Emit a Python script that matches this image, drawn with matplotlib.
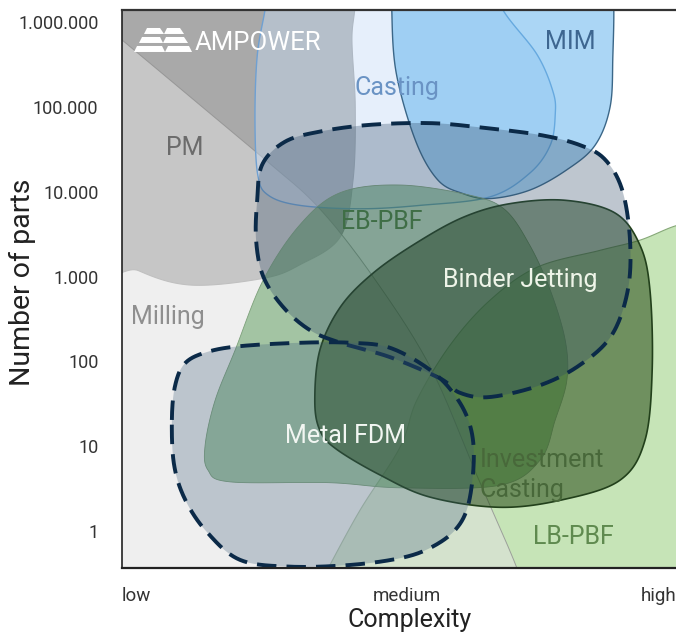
import numpy as np
import matplotlib
matplotlib.use("Agg")
import matplotlib.pyplot as plt
from matplotlib.patches import Polygon
from matplotlib.ticker import FixedLocator, FuncFormatter, NullLocator

plt.rcParams['font.family'] = ['Roboto', 'DejaVu Sans']

# Region outlines: complexity (0 = low, 100 = high) and log10(number of parts)
pm_x = [-5, 40.0, 42.0, 41.5, 42.1, 41.7, 39.4, 32.1, 25.5, 12.5, 3.0, -5]
pm_y = [7.0, 7.0, 6.3, 5.8, 5.0, 4.14, 3.47, 3.14, 2.98, 2.90, 3.07, 3.4]

lbpbf_x = [105, 100, 93.5, 86.3, 74.9, 66.4, 59.2, 53.2, 50.2, 43.0, 37.2, 36.1, 105]
lbpbf_y = [3.65, 3.60, 3.43, 3.31, 3.11, 2.72, 2.19, 1.54, 0.99, 0.25, -0.44, -0.81, -0.81]

milling_x = [-4, 0, 12.3, 25.8, 35.4, 45.3, 55.6, 63.9, 71.3, 72.5]
milling_y = [6.0, 5.79, 5.12, 4.38, 3.82, 3.0, 1.94, 0.68, -0.44, -0.8]

casting_x = [25.8, 24.4, 24.0, 24.5, 26.4, 32.1, 43.0, 53.8, 66.4, 73.6, 77.3, 78.2, 77.8,
             74.9, 68.8, 66.0, 30.0, 26.5]
casting_y = [6.14, 5.6, 4.85, 4.2, 3.96, 3.84, 3.80, 3.84, 3.94, 4.22, 4.55, 4.91, 5.18,
             5.62, 6.14, 6.6, 6.6, 6.45]

mim_x = [48.7, 49.5, 53.0, 57.0, 61.5, 66.4, 73.6, 80.3, 85.4, 88.1, 88.6, 88.7, 87.5, 52.0, 49.0]
mim_y = [6.14, 5.4, 4.6, 4.14, 3.98, 3.92, 4.02, 4.26, 4.55, 5.0, 5.6, 6.3, 6.7, 6.7, 6.5]

ebpbf_x = [15.0, 16.8, 20.4, 25.5, 32.1, 39.4, 50.2, 62.8, 69.1, 73.6, 77.3, 80.0, 80.3,
           78.2, 75.5, 68.2, 50.2, 37.5, 19.5, 15.5]
ebpbf_y = [1.01, 1.54, 2.13, 2.96, 3.61, 3.99, 4.08, 3.96, 3.79, 3.37, 2.84, 2.25, 1.78,
           1.31, 0.84, 0.54, 0.51, 0.57, 0.58, 0.72]

invest_x = [34.8, 35.7, 38.6, 46.6, 55.6, 68.2, 79.6, 89.9, 94.4, 95.7, 95.3, 93.5, 89.0,
            80.0, 70.0, 61.6, 53.2, 45.3, 39.4, 35.7]
invest_y = [1.54, 1.19, 0.97, 0.66, 0.40, 0.28, 0.37, 0.60, 1.07, 1.90, 2.84, 3.37, 3.75,
            3.90, 3.86, 3.70, 3.40, 3.04, 2.64, 2.13]

binder_x = [24.4, 25.3, 29.4, 35.7, 44.8, 55.6, 64.6, 75.5, 82.7, 87.2, 90.3, 91.7, 91.3,
            88.4, 82.7, 75.5, 66.4, 61.0, 57.4, 48.4, 39.4, 33.9, 29.1, 25.5, 24.2]
binder_y = [3.90, 4.32, 4.59, 4.71, 4.79, 4.81, 4.76, 4.67, 4.55, 4.38, 4.02, 3.43, 2.84,
            2.31, 1.96, 1.72, 1.58, 1.63, 1.80, 2.05, 2.22, 2.37, 2.64, 3.00, 3.43]

fdm_x = [9.0, 9.6, 11.4, 15.3, 21.3, 32.1, 41.2, 48.4, 55.6, 60.1, 62.8, 63.5, 62.5, 60.1,
         55.6, 50.2, 41.2, 30.3, 21.3, 15.3, 11.4, 9.4]
fdm_y = [1.31, 1.72, 1.98, 2.11, 2.18, 2.22, 2.22, 2.16, 1.90, 1.60, 1.25, 0.84, 0.31, 0.01,
         -0.20, -0.32, -0.40, -0.42, -0.34, -0.01, 0.37, 0.78]

y_ticks = [1, 10, 100, 1000, 10000, 100000, 1000000]
x_ticks = [0, 51.5, 100]
x_labels = ['low', 'medium', 'high']


def catmull(xs, ys, closed=True, n=24):
    pts = np.column_stack([xs, ys]).astype(float)
    if closed:
        P = np.vstack([pts[-1], pts, pts[0], pts[1]])
    else:
        P = np.vstack([pts[0], pts, pts[-1]])
    out = []
    t = np.linspace(0, 1, n, endpoint=False)[:, None]
    for i in range(1, len(P) - 2):
        p0, p1, p2, p3 = P[i - 1], P[i], P[i + 1], P[i + 2]
        seg = 0.5 * (2 * p1 + (-p0 + p2) * t + (2 * p0 - 5 * p1 + 4 * p2 - p3) * t ** 2
                     + (-p0 + 3 * p1 - 3 * p2 + p3) * t ** 3)
        out.append(seg)
    if not closed:
        out.append(pts[-1:])
    return np.vstack(out)


def to_plot(curve):
    return np.column_stack([curve[:, 0], 10 ** curve[:, 1]])


def region(ax, xs, ys, fc, alpha, ec, lw, z, closed=True, dashed=False):
    curve = catmull(xs, ys, closed=closed)
    pts = to_plot(curve)
    ax.add_patch(Polygon(pts, closed=True, fc=fc, alpha=alpha, ec='none', zorder=z))
    if dashed:
        loop = np.vstack([pts, pts[:1]])
        ax.plot(loop[:, 0], loop[:, 1], color=ec, lw=lw, ls=(0, (5, 2.6)), zorder=z + 0.5,
                solid_capstyle='butt', dash_capstyle='butt')
    elif ec is not None:
        ax.add_patch(Polygon(pts, closed=True, fc='none', ec=ec, lw=lw, zorder=z + 0.1))


fig = plt.figure(figsize=(6.76, 6.36), dpi=100)
ax = fig.add_axes([0.1805, 0.1069, 0.8195, 0.8774])
ax.set_facecolor('white')
ax.set_xlim(0, 100)
ax.set_yscale('log')
ax.set_ylim(10 ** -0.436, 10 ** 6.144)

# PM
region(ax, pm_x, pm_y, '#a9a9a9', 1.0, '#9c9c9c', 0.8, 1)
# LB-PBF (upper-left boundary is open curve, rest is off-axes)
lb = catmull(lbpbf_x[:-2], lbpbf_y[:-2], closed=False)
lb = np.vstack([lb, [[lbpbf_x[-2], lbpbf_y[-2]], [lbpbf_x[-1], lbpbf_y[-1]]]])
ax.add_patch(Polygon(to_plot(lb), closed=True, fc='#c6e4b7', ec='#86a878', lw=0.8, zorder=2))
# Milling (lightening overlay)
ml = catmull(milling_x, milling_y, closed=False)
ml = np.vstack([ml, [[-4, -0.8]]])
ax.add_patch(Polygon(to_plot(ml), closed=True, fc='#e1e1e1', alpha=0.53, ec='none', zorder=3))
mc = to_plot(catmull(milling_x, milling_y, closed=False))
ax.plot(mc[:, 0], mc[:, 1], color='#8f8f8f', lw=0.7, alpha=0.8, zorder=3.1)
# Casting and MIM
region(ax, casting_x, casting_y, '#c6dcf6', 0.44, '#6fa0d2', 1.0, 4)
region(ax, mim_x, mim_y, '#5fb2ec', 0.52, '#3b6788', 1.0, 5)
# EB-PBF
region(ax, ebpbf_x, ebpbf_y, '#3a8a3a', 0.42, '#7da07a', 0.6, 6)
# Investment casting
region(ax, invest_x, invest_y, '#20440f', 0.52, '#22401b', 1.2, 7)
# Binder Jetting and Metal FDM (dashed)
region(ax, binder_x, binder_y, '#2f4a66', 0.31, '#0b2a48', 2.8, 8, dashed=True)
region(ax, fdm_x, fdm_y, '#3a5a78', 0.28, '#0b2a48', 2.8, 9, dashed=True)

# region labels
lab = dict(fontsize=18, zorder=12, va='center')
ax.text(11.4, 10 ** 4.52, 'PM', color='#6b6b6b', ha='center', **lab)
ax.text(8.3, 10 ** 2.52, 'Milling', color='#8f8f8f', ha='center', **lab)
ax.text(49.6, 10 ** 5.22, 'Casting', color='#6a93c4', ha='center', **lab)
ax.text(80.9, 10 ** 5.77, 'MIM', color='#3d6690', ha='center', **lab)
ax.text(46.9, 10 ** 3.64, 'EB-PBF', color='#3f6e46', ha='center', **lab)
ax.text(71.8, 10 ** 2.96, 'Binder Jetting', color='#eef4e8', ha='center', **lab)
ax.text(40.3, 10 ** 1.12, 'Metal FDM', color='#f2f6f2', ha='center', **lab)
ax.text(64.6, 10 ** 0.84, 'Investment', color='#48683a', ha='left', **lab)
ax.text(64.6, 10 ** 0.48, 'Casting', color='#48683a', ha='left', **lab)
ax.text(81.4, 10 ** -0.07, 'LB-PBF', color='#5f8a4f', ha='center', **lab)


# AMPOWER logo
def px_to_axes(px, py):
    return ((px - 122) / 554.0, (568 - py) / 558.0)


bars = [
    [(147, 28), (160, 28), (164, 34), (144, 34)],
    [(167, 28), (180, 28), (184, 34), (164, 34)],
    [(142, 37), (160, 37), (163, 43), (139, 43)],
    [(166, 37), (184, 37), (188, 43), (163, 43)],
    [(137, 46), (162, 46), (165, 52), (134, 52)],
    [(168, 46), (189, 46), (192, 52), (165, 52)],
]
for b in bars:
    ax.add_patch(Polygon([px_to_axes(*p) for p in b], closed=True, fc='white', ec='none',
                         transform=ax.transAxes, zorder=13))
ax.text(*px_to_axes(195, 43), 'AMPOWER', transform=ax.transAxes, color='white', fontsize=18.5,
        ha='left', va='center', zorder=13)

# axes
ax.yaxis.set_major_locator(FixedLocator(y_ticks))
ax.yaxis.set_minor_locator(NullLocator())
ax.yaxis.set_major_formatter(FuncFormatter(lambda v, p: f"{int(round(v)):,}".replace(',', '.')))
ax.set_xticks(x_ticks)
ax.set_xticklabels(x_labels)
for lbl, ha in zip(ax.get_xticklabels(), ['left', 'center', 'right']):
    lbl.set_ha(ha)
ax.tick_params(axis='y', length=0, labelsize=13, colors='#333333', pad=17)
ax.tick_params(axis='x', length=0, labelsize=13.5, colors='#333333', pad=14)
fig.text(22 / 676, 0.5566, 'Number of parts', rotation=90, fontsize=20.5, color='#222222',
         ha='center', va='center')
fig.text(410 / 676, 0.0252, 'Complexity', fontsize=18, color='#222222', ha='center', va='center')

ax.spines['right'].set_visible(False)
ax.spines['top'].set_color('#333333')
ax.spines['top'].set_linewidth(1.6)
ax.spines['left'].set_color('#222222')
ax.spines['left'].set_linewidth(1.2)
ax.spines['bottom'].set_color('#222222')
ax.spines['bottom'].set_linewidth(1.6)
for s in ax.spines.values():
    s.set_zorder(20)

fig.savefig('out.png', dpi=100)
